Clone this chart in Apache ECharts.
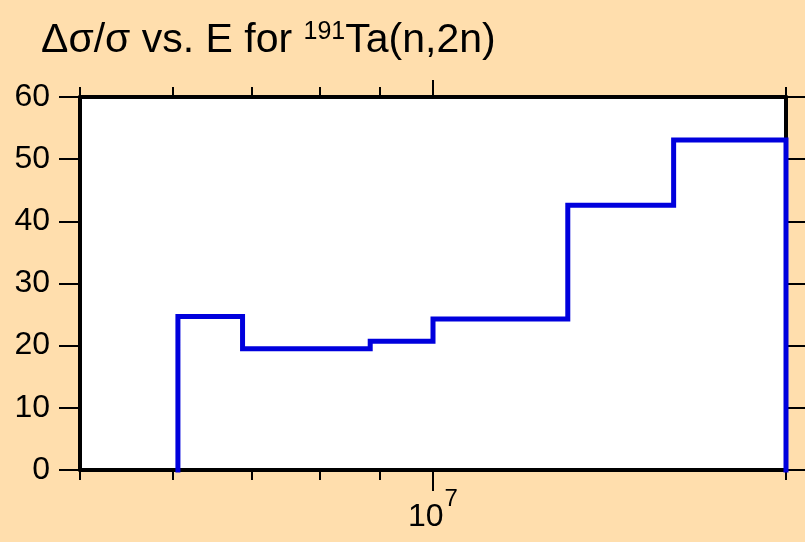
<!DOCTYPE html>
<html>
<head>
<meta charset="utf-8">
<script src="https://cdn.jsdelivr.net/npm/echarts@6/dist/echarts.min.js"></script>
<style>
  html, body { margin: 0; padding: 0; background: #ffdead; }
  #main { width: 805px; height: 542px; }
</style>
</head>
<body>
<div id="main"></div>
<script>
// bin edges (eV) and relative uncertainty (%) per bin
const binEdges = [6.06e6, 6.88e6, 8.84e6, 1.0e7, 1.303e7, 1.604e7, 2.0e7];
const binValues = [24.7, 19.5, 20.7, 24.3, 42.6, 53.1];
const minorTicks = [5e6, 6e6, 7e6, 8e6, 9e6, 2e7];
const majorTicks = [1e7];

// step outline of the histogram
const stepPoints = [[binEdges[0], 0]];
binValues.forEach((v, i) => {
  stepPoints.push([binEdges[i], v]);
  stepPoints.push([binEdges[i + 1], v]);
});
stepPoints.push([binEdges[binEdges.length - 1], 0]);

const font = 'Liberation Sans, Arial, sans-serif';

function xAxisDef(position, ticks, len, showLine, showLabel) {
  return {
    type: 'log',
    logBase: 10,
    gridIndex: 0,
    position: position,
    min: 5e6,
    max: 2e7,
    axisLine: { show: showLine, lineStyle: { color: '#000', width: 4 } },
    axisTick: {
      show: true,
      inside: false,
      length: len,
      customValues: ticks,
      lineStyle: { color: '#000', width: 2 }
    },
    axisLabel: {
      show: showLabel,
      customValues: majorTicks,
      margin: 17,
      formatter: function () { return '{b|10}{s|7}'; },
      rich: {
        b: { fontFamily: font, fontSize: 32, color: '#000', padding: [14, 0, 0, 0] },
        s: { fontFamily: font, fontSize: 24, color: '#000', verticalAlign: 'top', padding: [0, 0, 0, 1] }
      }
    },
    splitLine: { show: false }
  };
}

function yAxisDef(position, showLabel) {
  return {
    type: 'value',
    position: position,
    min: 0,
    max: 60,
    interval: 10,
    axisLine: { show: true, lineStyle: { color: '#000', width: 4 } },
    axisTick: { show: true, inside: false, length: position === 'left' ? 21 : 19, lineStyle: { color: '#000', width: 2 } },
    axisLabel: { show: showLabel, margin: 30, fontFamily: font, fontSize: 32, color: '#000' },
    splitLine: { show: false }
  };
}

const chart = echarts.init(document.getElementById('main'));
chart.setOption({
  backgroundColor: '#ffdead',
  animation: false,
  title: {
    left: 36,
    top: 15,
    text: '{a|Δσ/σ vs. E for }{s|191}{a|Ta(n,2n)}',
    textStyle: {
      rich: {
        a: { fontFamily: font, fontSize: 41, fontWeight: 'normal', color: '#000' },
        s: { fontFamily: font, fontSize: 25, fontWeight: 'normal', color: '#000', verticalAlign: 'top' }
      }
    }
  },
  grid: {
    left: 80, right: 19, top: 97, bottom: 72,
    show: true, backgroundColor: '#ffffff', borderWidth: 0
  },
  xAxis: [
    xAxisDef('bottom', minorTicks, 10, true, false),
    xAxisDef('bottom', majorTicks, 21, false, true),
    xAxisDef('top', minorTicks, 10, true, false),
    xAxisDef('top', majorTicks, 17, false, false)
  ],
  yAxis: [
    yAxisDef('left', true),
    yAxisDef('right', false)
  ],
  series: [{
    type: 'line',
    xAxisIndex: 0,
    yAxisIndex: 0,
    data: stepPoints,
    showSymbol: false,
    symbol: 'none',
    clip: false,
    lineStyle: { color: '#0000dd', width: 5, join: 'miter', cap: 'square' },
    z: 5
  }]
});
</script>
</body>
</html>
